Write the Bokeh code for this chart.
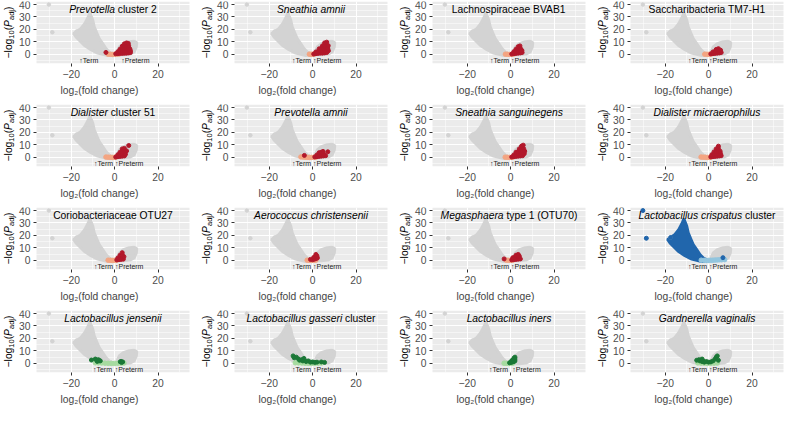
import math
from bokeh.plotting import figure
from bokeh.layouts import gridplot
from bokeh.models import Range1d, FixedTicker, Label, BoxAnnotation
from bokeh.embed import file_html
from bokeh.resources import INLINE

# ---------------- data ----------------
# outline of the grey cloud of all taxa (left and right lobes of the volcano)
left_lobe_x = [0.3, -1.0, -2.4, -4.0, -5.5, -7.1, -8.1, -9.4, -10.1, -11.4, -12.1, -13.7, -15.5, -17.8, -18.9, -17.8, -16.3, -14.0, -10.9, -7.8, -3.2, 0.3]
left_lobe_y = [-0.5, 0.5, 1.9, 4.6, 8.6, 12.6, 16.7, 22.0, 27.4, 33.3, 30.1, 24.7, 20.7, 18.0, 16.7, 14.0, 11.3, 7.3, 3.8, 1.1, -0.8, -0.5]
right_lobe_x = [0.3, 1.0, 2.1, 4.0, 6.8, 9.0, 10.2, 10.0, 9.0, 7.0, 4.0, 0.3]
right_lobe_y = [-0.5, 1.5, 5.9, 8.5, 10.2, 10.5, 9.5, 6.0, 2.0, 0.3, -0.3, -0.5]
outlier_x = [-30.3, -28.7, -17.5]
outlier_y = [39.8, 17.7, 18.3]

title_italic = ["Prevotella", "Sneathia amnii", "", "",
                "Dialister", "Prevotella amnii", "Sneathia sanguinegens", "Dialister micraerophilus",
                "", "Aerococcus christensenii", "Megasphaera", "Lactobacillus crispatus",
                "Lactobacillus jensenii", "Lactobacillus gasseri", "Lactobacillus iners", "Gardnerella vaginalis"]
title_plain = ["cluster 2", "", "Lachnospiraceae BVAB1", "Saccharibacteria TM7-H1",
               "cluster 51", "", "", "",
               "Coriobacteriaceae OTU27", "", "type 1 (OTU70)", "cluster",
               "", "cluster", "", ""]
group = ["red"] * 11 + ["blue"] + ["green"] * 4

# x positions of the "Term" (right end) and "Preterm" (left end) notes
term_x = [-7.5, -0.7, -0.7, -0.7, -0.7, -0.7, -0.7, -0.7, -0.7, -0.7, -0.7, -0.7, -1.2, -0.7, -1.2, -0.7]
preterm_x = [3.0, 0.2, 0.2, 0.2, 0.2, 0.2, 0.2, 0.2, 0.2, 0.2, 0.2, 0.2, 0.0, 0.2, 0.8, 0.2]

# highlighted taxa (dark colour) per panel
dark_x = [
    [0.5, 1.5, 2.5, 3.5, 4.5, 5.5, 6.5, 7.3, 1.5, 2.5, 3.5, 4.5, 5.5, 6.5, 7.3, 2.5, 3.5, 4.5, 5.5, 6.5, 7.0, 3.5, 4.5, 5.5, 6.5, 4.5, 5.5, 6.3, -4.0],
    [0.5, 1.5, 2.5, 3.5, 4.5, 5.5, 6.5, 1.5, 2.5, 3.5, 4.5, 5.5, 6.5, 7.3, 3.0, 4.0, 5.0, 6.0, 7.0, 4.5, 5.5, 6.5, 7.2, 5.5, 6.5],
    [0.5, 1.5, 2.5, 3.5, 4.5, 5.3, 1.5, 2.5, 3.5, 4.5, 5.2, 2.5, 3.5, 4.5, 3.5, 4.3],
    [1.0, 2.0, 3.0, 4.0, 5.0, 5.8, 2.0, 3.0, 4.0, 5.0, 5.5, 3.5, 4.5],
    [0.5, 1.5, 2.5, 3.5, 4.5, 1.5, 2.5, 3.5, 4.5, 5.0, 2.5, 3.5, 4.5, 5.5, 3.5, 4.5, 6.5],
    [1.0, 2.0, 3.0, 4.0, 5.0, 6.0, 2.0, 3.0, 4.0, 5.0, 3.0, 4.0, 4.8, -3.8, 7.0],
    [0.5, 1.5, 2.5, 3.5, 4.5, 5.5, 1.5, 2.5, 3.5, 4.5, 5.5, 6.3, 2.5, 3.5, 4.5, 5.5, 6.5, 4.0, 5.0, 6.0, 5.0, 5.8],
    [1.0, 2.0, 3.0, 4.0, 5.0, 5.8, 1.5, 2.5, 3.5, 4.5, 5.5, 2.5, 3.5, 4.5, 5.3, 3.5, 4.5, 4.5],
    [1.0, 2.0, 3.0, 4.0, 1.5, 2.5, 3.5, 4.3, 2.5, 3.5, 3.5],
    [-1.0, 0.0, 0.8, 1.5, 2.2, 0.5, 1.2, 2.0, 1.5],
    [-3.0, 0.5, 1.5, 2.5, 3.5, 4.5, 1.0, 2.0, 3.0, 4.0, 2.5, 3.5],
    [6.6, -30.3, -28.7, -17.5],
    [-10.7, -8.9, -8.2, -7.5, -7.0, -6.6, -8.0, 2.6, 3.0, 3.7, 3.2],
    [-9.0, -8.5, -7.5, -6.5, -6.0, -5.0, -4.5, -4.0, -3.0, -2.0, -1.0, 0.0, 1.0, 2.0, 4.0, 5.5],
    [-0.5, 0.0, 0.5, 1.0, 1.5, 2.0, 0.5, 1.0, 1.5, 2.0, 1.5, 2.0],
    [-5.5, -4.5, -4.0, -3.5, -3.0, -2.5, -2.0, -1.0, 0.0, 1.0, 2.0, 3.0, 3.5, 4.0, 4.5, -3.0],
]
dark_y = [
    [0.5, 0.6, 0.8, 0.8, 0.9, 1.0, 1.2, 1.5, 2.2, 2.5, 2.6, 2.8, 3.0, 3.2, 3.0, 4.2, 4.5, 4.8, 4.8, 5.0, 4.5, 6.5, 6.8, 7.0, 6.8, 8.5, 9.2, 8.8, 1.6],
    [0.3, 0.6, 0.8, 1.0, 1.0, 1.2, 1.5, 2.0, 2.4, 2.8, 3.0, 3.2, 3.4, 3.0, 4.5, 4.8, 5.0, 5.5, 5.0, 6.8, 7.2, 7.5, 7.0, 9.2, 9.8],
    [0.3, 0.6, 0.8, 1.0, 1.2, 1.5, 2.2, 2.5, 2.8, 3.0, 3.2, 4.2, 4.5, 4.8, 6.2, 6.8],
    [0.4, 0.6, 0.8, 1.0, 1.2, 1.5, 2.0, 2.4, 2.8, 3.0, 3.4, 4.0, 4.6],
    [0.3, 0.6, 0.8, 1.0, 1.2, 2.2, 2.6, 3.0, 3.2, 2.5, 4.2, 4.6, 5.0, 5.2, 6.8, 7.2, 9.5],
    [0.4, 0.6, 0.8, 1.0, 1.2, 1.4, 2.0, 2.4, 2.8, 3.0, 3.8, 4.2, 4.8, 1.6, 4.5],
    [0.3, 0.6, 0.8, 1.0, 1.2, 1.4, 2.0, 2.4, 2.8, 3.0, 3.2, 3.0, 4.2, 4.6, 5.0, 5.2, 5.0, 6.8, 7.2, 7.0, 9.0, 9.8],
    [0.4, 0.6, 0.8, 1.0, 1.2, 1.4, 2.2, 2.6, 3.0, 3.2, 3.0, 4.4, 4.8, 5.2, 5.0, 6.8, 7.2, 9.0],
    [0.4, 0.6, 0.8, 1.0, 2.0, 2.4, 2.8, 3.0, 4.2, 4.6, 6.2],
    [0.8, 0.6, 1.0, 1.4, 2.0, 2.4, 3.0, 3.5, 4.8],
    [1.2, 0.4, 0.6, 0.8, 1.0, 1.2, 2.2, 2.6, 3.0, 3.4, 4.2, 4.8],
    [2.2, 39.8, 17.7, 18.3],
    [2.7, 3.5, 2.5, 3.0, 2.2, 2.0, 1.6, 1.3, 1.6, 1.2, 0.8],
    [6.0, 4.5, 5.0, 3.5, 2.5, 3.0, 2.0, 4.0, 1.5, 2.0, 1.0, 1.2, 0.8, 1.0, 1.2, 0.8],
    [0.5, 0.8, 1.0, 1.2, 1.5, 2.0, 2.2, 2.6, 3.0, 3.5, 4.2, 5.0],
    [2.5, 3.0, 2.0, 2.5, 1.5, 2.0, 1.0, 1.5, 1.0, 1.2, 2.0, 3.5, 5.0, 6.0, 2.5, 3.5],
]
# non-significant taxa of the same group (light colour), all close to y = 0
light_x = [
    [-3.0, -2.0, -1.0, 0.0, 1.0, 2.0],
    [-1.5, -0.7, 0.0, 0.8],
    [-2.4, -1.4, -0.4, 0.6, 1.4],
    [-1.8, -0.8, 0.2, 1.2],
    [-4.0, -3.0, -2.0, -1.0, 0.0, 0.5],
    [-5.4, -4.4, -3.4, -2.4, -1.4, -0.4, 0.6, 1.5],
    [-2.5, -1.5, -0.5, 0.5, 1.0],
    [-3.5, -2.5, -1.5, -0.5, 0.5, 1.0],
    [-3.0, -2.0, -1.0, 0.0, 1.0],
    [-2.5, -1.5, -0.5, 0.5, 1.5],
    [-2.0, -1.0, 0.0, 1.0],
    [-3.4, -2.0, -1.0, 0.0, 1.0, 2.0, 3.0, 4.0, 5.0, 6.0, 7.4],
    [-8.9, -7.5, -6.0, -4.5, -3.0, -1.5, 0.0, 1.5, 3.0, 4.3],
    [-8.0, -6.5, -5.0, -3.5, -2.0, -0.5, 1.0, 2.5, 4.0],
    [-3.0, -2.0, -1.0, 0.0, 1.0],
    [-5.0, -3.5, -2.0, -0.5, 1.0, 2.5, 4.0],
]
light_y = [
    [0.2, 0.1, 0.0, 0.1, 0.2, 0.3],
    [0.2, 0.1, 0.1, 0.3],
    [0.2, 0.1, 0.0, 0.2, 0.3],
    [0.2, 0.1, 0.1, 0.3],
    [0.3, 0.2, 0.1, 0.0, 0.1, 0.2],
    [0.4, 0.3, 0.2, 0.1, 0.0, 0.0, 0.1, 0.2],
    [0.2, 0.1, 0.0, 0.1, 0.2],
    [0.3, 0.2, 0.1, 0.0, 0.1, 0.2],
    [0.2, 0.1, 0.0, 0.1, 0.2],
    [0.2, 0.1, 0.0, 0.1, 0.2],
    [0.2, 0.1, 0.0, 0.2],
    [0.2, 0.1, 0.0, 0.0, 0.1, 0.2, 0.3, 0.4, 0.5, 0.5, 0.6],
    [0.5, 0.4, 0.3, 0.2, 0.1, 0.0, 0.0, 0.1, 0.2, 0.3],
    [0.5, 0.4, 0.3, 0.2, 0.1, 0.0, 0.1, 0.2, 0.3],
    [0.2, 0.1, 0.0, 0.1, 0.2],
    [0.4, 0.3, 0.2, 0.0, 0.1, 0.2, 0.3],
]

colors = {"red": ("#B2182B", "#F4A582"), "blue": ("#2166AC", "#92C5DE"), "green": ("#1B7837", "#A6DBA0")}
GREY = "#D3D3D3"

# Arial advance widths (per 1000 em) used to lay out mixed-style titles
AW = dict(zip("abcdefghijklmnopqrstuvwxyz", [556,556,500,556,556,278,556,556,222,222,500,222,833,556,556,556,556,333,500,278,556,500,722,500,500,500]))
AW.update(dict(zip("ABCDEFGHIJKLMNOPQRSTUVWXYZ", [667,667,722,722,667,611,778,722,278,500,667,556,833,722,778,667,778,722,667,611,722,667,944,667,667,611])))
AW.update({c: 556 for c in "0123456789"})
AW.update({" ": 278, "(": 333, ")": 333, "-": 333, "\u2212": 584})

def tw(s, size):
    return sum(AW.get(c, 556) for c in s) * size / 1000.0

FONT = "Liberation Sans"
XR = (-36.0, 34.5)
YR = (-7.25, 42.25)
TITLE_SIZE = 10.3
W, H = 198, 103
LEFT_PAD, RIGHT_PAD = 36, 9
SCALE = (W - LEFT_PAD - RIGHT_PAD) / (XR[1] - XR[0])
FRAME_X = (XR[0] - LEFT_PAD / SCALE, XR[1] + RIGHT_PAD / SCALE)


def make_panel(i):
    p = figure(width=W, height=H, x_range=Range1d(*FRAME_X), y_range=Range1d(*YR),
               output_backend="svg", toolbar_location=None,
               min_border_left=0, min_border_right=0, min_border_top=1, min_border_bottom=40)
    p.background_fill_color = "white"
    p.border_fill_color = "white"
    p.outline_line_color = None
    p.add_layout(BoxAnnotation(left=XR[0], right=XR[1], bottom=YR[0], top=YR[1],
                               fill_color="#EBEBEB", fill_alpha=1, line_color=None, level="image"))
    p.xaxis.ticker = FixedTicker(ticks=[-20, 0, 20], minor_ticks=[-30, -10, 10, 30])
    p.yaxis.ticker = FixedTicker(ticks=[0, 10, 20, 30, 40], minor_ticks=[-5, 5, 15, 25, 35])
    p.yaxis.fixed_location = XR[0]
    p.grid.grid_line_color = "white"
    p.grid.grid_line_width = 1.1
    p.grid.minor_grid_line_color = "white"
    p.grid.minor_grid_line_width = 0.5
    for ax in (p.xaxis[0], p.yaxis[0]):
        ax.axis_line_color = None
        ax.major_tick_line_color = "#333333"
        ax.major_tick_out = 3
        ax.major_tick_in = 0
        ax.minor_tick_line_color = None
        ax.major_label_text_color = "#4D4D4D"
        ax.major_label_text_font = FONT
        ax.major_label_text_font_size = "10.3px"
        ax.major_label_standoff = 2
    p.xaxis.axis_label = "log\u2082(fold change)"
    p.xaxis.axis_label_text_font = FONT
    p.xaxis.axis_label_text_font_style = "normal"
    p.xaxis.axis_label_text_font_size = "10.3px"
    p.xaxis.axis_label_standoff = 4

    dark, light = colors[group[i]]
    lobe_left_col = dark if group[i] == "blue" else GREY
    p.patch(left_lobe_x, left_lobe_y, fill_color=lobe_left_col, line_color=lobe_left_col, line_width=3)
    p.patch(right_lobe_x, right_lobe_y, fill_color=GREY, line_color=GREY, line_width=3)
    p.scatter(outlier_x, outlier_y, size=3.5, color=GREY)
    p.scatter(light_x[i], light_y[i], size=4.5, color=light)
    p.scatter(dark_x[i], dark_y[i], size=4, color=dark)

    # term / preterm annotations
    p.add_layout(Label(x=term_x[i], y=-5, text="\u2191Term", text_align="right", text_baseline="middle",
                       text_font=FONT, text_font_size="7px", text_color="#222222"))
    p.add_layout(Label(x=preterm_x[i], y=-5, text="\u2191Preterm", text_align="left", text_baseline="middle",
                       text_font=FONT, text_font_size="7px", text_color="#222222"))

    # panel title (italic genus/species + plain remainder)
    it, pl = title_italic[i], title_plain[i]
    gap = tw(" ", TITLE_SIZE) if (it and pl) else 0.0
    total = tw(it, TITLE_SIZE) + gap + tw(pl, TITLE_SIZE)
    xc = (XR[0] + XR[1]) / 2
    start = -total / 2
    if it:
        p.add_layout(Label(x=xc, y=YR[1], x_offset=start, y_offset=-8, text=it, text_align="left",
                           text_baseline="middle", text_font=FONT, text_font_style="italic",
                           text_font_size=f"{TITLE_SIZE}px", text_color="black"))
    if pl:
        p.add_layout(Label(x=xc, y=YR[1], x_offset=start + tw(it, TITLE_SIZE) + gap, y_offset=-8, text=pl,
                           text_align="left", text_baseline="middle", text_font=FONT,
                           text_font_size=f"{TITLE_SIZE}px", text_color="black"))

    # y-axis title: -log10(P_adj), drawn in pieces
    pieces = [("\u2212log", 10.3, "normal", 0), ("10", 7.5, "normal", 2.5), ("(", 10.3, "normal", 0),
              ("P", 10.3, "italic", 0), ("adj", 7.5, "normal", 2.5), (")", 10.3, "normal", 0)]
    L = sum(tw(t, s) for t, s, _, _ in pieces)
    yc = (YR[0] + YR[1]) / 2
    cum = -L / 2
    for t, s, st, sh in pieces:
        p.add_layout(Label(x=XR[0], y=yc, x_offset=-28 + sh, y_offset=cum, text=t, angle=math.pi / 2,
                           text_align="left", text_baseline="middle", text_font=FONT,
                           text_font_style=st, text_font_size=f"{s}px", text_color="black"))
        cum += tw(t, s)
    return p


figs = [make_panel(i) for i in range(16)]
grid = gridplot(figs, ncols=4, toolbar_location=None)
open("out.html", "w").write(file_html(grid, INLINE))
